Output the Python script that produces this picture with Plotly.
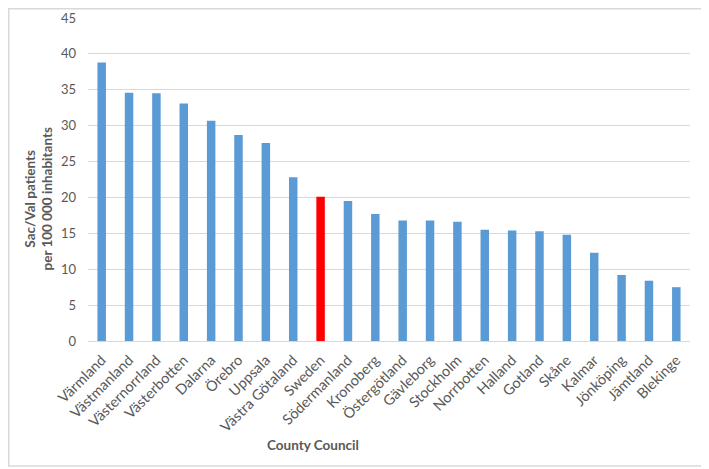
import plotly.graph_objects as go

counties = ["Värmland", "Västmanland", "Västernorrland", "Västerbotten", "Dalarna", "Örebro",
            "Uppsala", "Västra Götaland", "Sweden", "Södermanland", "Kronoberg", "Östergötland",
            "Gävleborg", "Stockholm", "Norrbotten", "Halland", "Gotland", "Skåne", "Kalmar",
            "Jönköping", "Jämtland", "Blekinge"]
values = [38.8, 34.6, 34.5, 33.1, 30.7, 28.7, 27.6, 22.8, 20.1, 19.5, 17.7, 16.8,
          16.8, 16.6, 15.5, 15.4, 15.3, 14.8, 12.3, 9.2, 8.4, 7.5]
highlight = "Sweden"

y_ticks = [0, 5, 10, 15, 20, 25, 30, 35, 40, 45]

colors = ["#ff0000" if c == highlight else "#5b9bd5" for c in counties]

FONT = "Lato"
GRAY = "#595959"

# page body has an 8px margin; plot area in the screenshot: x 88..690, y 18..341
PW, PH = 602, 323


def px(x):
    return (x - 88) / PW


def py(y):
    return (341 - y) / PH


fig = go.Figure(go.Bar(x=counties, y=values, marker=dict(color=colors, line=dict(width=0)),
                       width=0.31))

fig.update_layout(
    width=701, height=461,
    margin=dict(l=80, r=19, t=10, b=128, autoexpand=False),
    paper_bgcolor="white", plot_bgcolor="white",
    showlegend=False,
    font=dict(family=FONT, size=12, color=GRAY),
    xaxis=dict(tickangle=-45, showgrid=False, showline=True, linecolor="#d9d9d9",
               linewidth=1, tickfont=dict(size=14.5, color=GRAY, family=FONT),
               ticklabelstandoff=4, automargin=False),
    yaxis=dict(range=[0, 45], tickvals=y_ticks, showgrid=True, gridcolor="#d9d9d9",
               gridwidth=1, zeroline=False, showline=False, automargin=False,
               tickfont=dict(size=13, color=GRAY, family=FONT), ticklabelstandoff=11),
    annotations=[
        dict(text="<b>Sac/Val patients<br>per 100 000 inhabitants</b>", textangle=-90,
             xref="paper", yref="paper", x=px(38.5), y=py(199), showarrow=False,
             font=dict(size=13.5, color=GRAY, family=FONT), xanchor="center", yanchor="middle"),
        dict(text="<b>County Council</b>", xref="paper", yref="paper",
             x=px(313), y=py(445), showarrow=False,
             font=dict(size=13.5, color=GRAY, family=FONT), xanchor="center", yanchor="middle"),
    ],
    shapes=[dict(type="rect", xref="paper", yref="paper",
                 x0=px(8.75), x1=px(706), y0=py(466), y1=py(8.75),
                 line=dict(color="#d9d9d9", width=1.5), fillcolor="rgba(0,0,0,0)")],
)

fig.write_html("out.html")
